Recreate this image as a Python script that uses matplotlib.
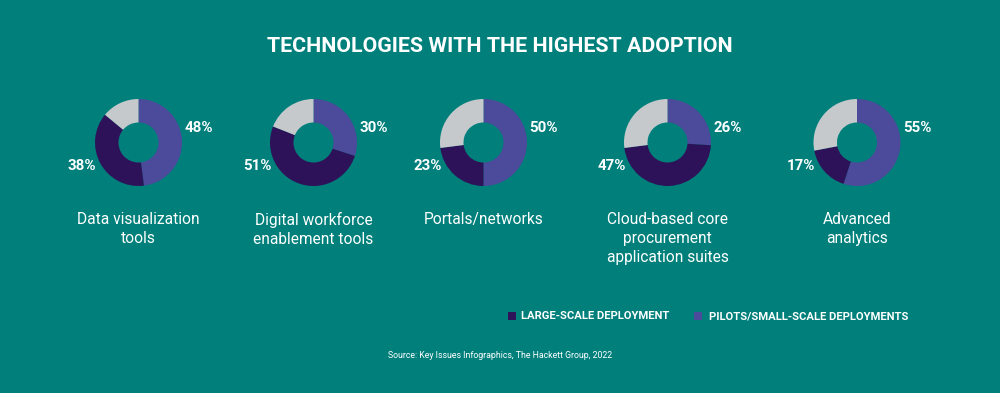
import matplotlib
matplotlib.use("Agg")
import matplotlib.pyplot as plt

categories = ["Data visualization\ntools", "Digital workforce\nenablement tools", "Portals/networks",
              "Cloud-based core\nprocurement\napplication suites", "Advanced\nanalytics"]
pilots = [48, 30, 50, 26, 55]
large = [38, 51, 23, 47, 17]
legend_labels = ["LARGE-SCALE DEPLOYMENT", "PILOTS/SMALL-SCALE DEPLOYMENTS"]
title = "TECHNOLOGIES WITH THE HIGHEST ADOPTION"
source = "Source: Key Issues Infographics, The Hackett Group, 2022"

BG = "#007F7B"
C_PILOT = "#4B4A9B"
C_LARGE = "#2E1259"
C_REST = "#C6C9CB"
FONT = ["Roboto", "DejaVu Sans"]

W, H = 1000, 393
fig = plt.figure(figsize=(W / 100, H / 100), dpi=100, facecolor=BG)

def fx(x):
    return x / W

def fy(y):
    return 1 - y / H

fig.text(fx(500), fy(46), title, ha="center", va="center", color="white",
         fontsize=15.4, fontweight="bold", family=FONT)

centers = [138.5, 313.5, 483.5, 667.5, 857]
cy = 142.5
r = 43.5
for cx, cat, p, l in zip(centers, categories, pilots, large):
    ax = fig.add_axes([fx(cx - r), fy(cy + r), 2 * r / W, 2 * r / H])
    ax.pie([p, l, 100 - p - l], colors=[C_PILOT, C_LARGE, C_REST], startangle=90,
           counterclock=False, radius=1, wedgeprops=dict(width=0.54, linewidth=0))
    ax.set_xlim(-1, 1)
    ax.set_ylim(-1, 1)
    ax.set_aspect("auto")
    ax.axis("off")
    fig.text(fx(cx + 46), fy(128), f"{p}%", ha="left", va="center", color="white",
             fontsize=10.8, fontweight="bold", family=FONT)
    fig.text(fx(cx - 42), fy(166.5), f"{l}%", ha="right", va="center", color="white",
             fontsize=10.8, fontweight="bold", family=FONT)
    fig.text(fx(cx), fy(212), cat, ha="center", va="top", color="white",
             fontsize=11.2, family=FONT, linespacing=1.35)

# legend
for sx, tx, lab, col in [(512, 521, legend_labels[0], C_LARGE), (698, 709, legend_labels[1], C_PILOT)]:
    lax = fig.add_axes([fx(sx - 4), fy(320), 8 / W, 8 / H])
    lax.set_facecolor(col)
    lax.set_xticks([])
    lax.set_yticks([])
    for s in lax.spines.values():
        s.set_visible(False)
    fig.text(fx(tx), fy(316), lab, ha="left", va="center", color="white",
             fontsize=8.1, fontweight="bold", family=FONT)

fig.text(fx(500), fy(356), source, ha="center", va="center", color="white",
         fontsize=6.3, family=FONT)

fig.savefig("out.png", dpi=100, facecolor=BG)
